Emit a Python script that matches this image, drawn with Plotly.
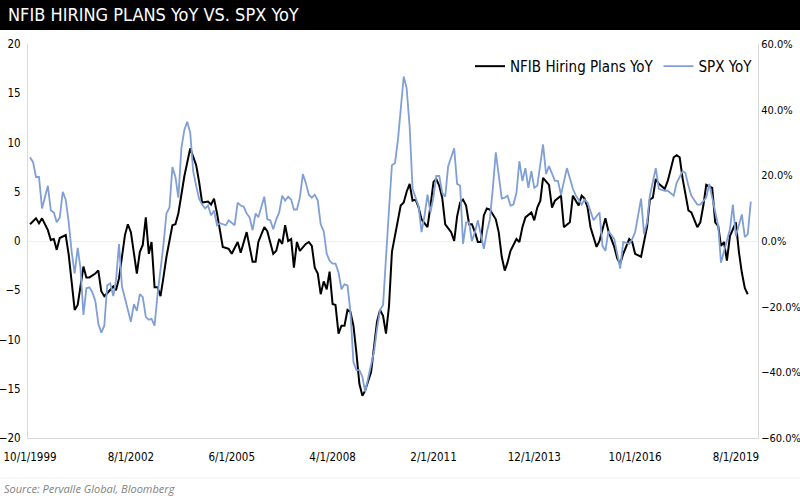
import pandas as pd
import plotly.graph_objects as go

start = pd.Timestamp("1999-10-01")

# NFIB hiring plans YoY: month offset from 10/1999, value
nfib_m = [0, 2, 3, 4, 6, 7, 8, 9, 10, 12, 13, 14, 15, 16, 17, 18, 19, 20, 22, 23, 24, 25, 26, 28, 29, 30,
          32, 33, 34, 36, 37, 38, 39, 40, 41, 42, 43, 44, 45, 46, 48, 49, 50, 52, 54, 56, 57, 58, 60, 61,
          62, 63, 65, 67, 68, 70, 71, 73, 75, 76, 77, 79, 80, 82, 83, 84, 85, 86, 87, 88, 89, 90, 91, 93,
          94, 95, 96, 97, 98, 99, 100, 101, 102, 103, 104, 105, 106, 107, 108, 109, 110, 111, 112, 113,
          115, 116, 117, 118, 119, 120, 121, 122, 124, 125, 126, 127, 128, 129, 130, 131, 132, 134, 135,
          136, 137, 138, 139, 140, 142, 143, 144, 145, 146, 147, 148, 149, 150, 151, 152, 153, 154, 155,
          157, 158, 159, 160, 161, 162, 164, 165, 166, 167, 169, 170, 171, 172, 173, 175, 176, 177, 179,
          180, 182, 183, 185, 186, 187, 188, 189, 191, 192, 194, 195, 197, 198, 199, 200, 202, 203, 204,
          206, 207, 208, 209, 210, 211, 212, 214, 215, 217, 218, 219, 220, 222, 223, 225, 226, 227, 228,
          230, 231, 232, 233, 234, 235, 236, 238, 239, 240, 241, 242]
nfib_v = [1.7, 2.3, 1.8, 2.3, 1.1, 0.1, 0.2, -0.9, 0.3, 0.6, -1.4, -4.5, -7.0, -6.5, -4.8, -2.6, -3.7, -3.7,
          -3.3, -3.0, -5.1, -5.6, -5.3, -4.6, -5.0, -3.8, 0.6, 1.7, 0.9, -3.3, -1.1, -0.4, 2.4, -1.3, -0.1,
          -4.7, -4.7, -5.6, -3.7, -1.6, 1.6, 1.7, 2.8, 6.6, 9.4, 7.7, 6.0, 3.9, 4.0, 3.7, 4.3, 2.8, -0.6,
          -0.8, -1.3, -0.1, -1.2, 0.9, -2.1, -2.1, -0.1, 1.4, 1.0, -1.3, -1.0, 0.2, -0.3, 1.6, 0.0, 0.2,
          -2.7, -0.1, -1.0, -0.3, -0.1, -0.5, -2.7, -3.3, -5.4, -4.1, -4.9, -3.1, -6.4, -6.5, -9.4, -8.6,
          -8.6, -7.0, -7.2, -8.6, -11.3, -14.5, -15.7, -15.2, -13.3, -10.9, -8.2, -7.0, -7.6, -9.4, -6.6,
          -1.1, 1.9, 3.6, 3.9, 5.0, 5.8, 4.1, 4.2, 3.4, 2.2, 1.4, 3.6, 6.0, 6.3, 5.6, 4.4, 1.7, 0.9, 0.0,
          2.5, 3.9, 4.2, 3.6, 1.7, 1.7, 0.9, -0.1, -0.1, 2.6, 3.3, 3.2, 2.2, 0.9, -1.6, -3.0, -2.2, -1.0,
          0.2, -0.1, 1.4, 2.4, 2.9, 2.1, 3.4, 4.1, 6.4, 5.7, 3.4, 4.1, 4.6, 1.4, 1.9, 4.6, 3.6, 4.6, 4.3,
          3.4, 1.4, -0.6, 0.0, 2.3, 1.0, -0.6, -1.8, -2.3, -1.3, 0.2, -0.1, -1.3, -1.6, 0.0, 1.5, 4.2, 4.4,
          6.3, 5.8, 5.3, 6.1, 8.5, 8.7, 8.5, 6.3, 3.1, 2.9, 1.4, 1.9, 3.6, 5.7, 5.4, 1.9, 1.5, -0.5, -0.1,
          -2.0, 0.5, 1.9, -1.1, -3.2, -4.8, -5.4]

# SPX YoY (%)
spx_m = [0, 1, 2, 3, 4, 5, 6, 7, 8, 9, 10, 11, 12, 13, 14, 15, 16, 17, 18, 19, 20, 21, 22, 23, 24, 25, 26,
         27, 28, 29, 30, 31, 32, 33, 34, 35, 36, 37, 38, 39, 40, 41, 42, 43, 44, 45, 46, 47, 48, 49, 50,
         51, 52, 53, 54, 55, 56, 57, 58, 59, 60, 61, 62, 63, 64, 65, 66, 67, 69, 70, 71, 72, 73, 74, 75,
         76, 77, 79, 80, 81, 82, 83, 84, 85, 86, 87, 88, 89, 90, 91, 92, 93, 94, 95, 96, 97, 98, 99, 100,
         101, 102, 103, 104, 105, 106, 107, 108, 109, 110, 111, 112, 113, 114, 115, 116, 117, 118, 119,
         120, 121, 122, 123, 124, 125, 126, 127, 128, 129, 130, 131, 132, 133, 134, 135, 136, 137, 138,
         139, 140, 141, 143, 144, 145, 146, 147, 148, 149, 150, 151, 152, 153, 154, 155, 156, 157, 159,
         160, 161, 162, 163, 164, 165, 166, 167, 168, 169, 170, 171, 172, 173, 174, 175, 177, 178, 179,
         181, 183, 184, 186, 187, 188, 189, 190, 192, 193, 194, 195, 197, 198, 199, 200, 202, 203, 204,
         206, 207, 208, 209, 211, 212, 214, 215, 217, 218, 220, 221, 222, 223, 225, 226, 228, 229, 230,
         232, 233, 234, 236, 237, 238, 240, 241, 242, 243]
spx_v = [25.5, 24.0, 19.5, 19.5, 9.9, 12.9, 16.8, 9.3, 8.7, 5.7, 7.2, 15.0, 12.6, 5.7, -3.3, -9.9, -2.1,
         -8.1, -22.5, -14.4, -14.1, -15.6, -18.3, -25.2, -27.9, -25.8, -13.5, -12.9, -16.8, -12.0, -0.9,
         -13.8, -17.4, -21.0, -24.6, -19.2, -21.3, -16.2, -17.1, -23.1, -24.0, -23.7, -25.8, -16.5, -9.3,
         -1.2, 8.4, 10.2, 22.5, 19.5, 13.2, 28.2, 33.9, 36.3, 33.0, 21.3, 16.8, 12.9, 11.1, 9.9, 10.8, 7.8,
         9.3, 4.8, 5.4, 5.1, 4.8, 6.3, 4.8, 11.7, 10.8, 10.5, 8.4, 7.2, 3.3, 8.4, 7.2, 13.5, 6.6, 6.3, 3.6,
         6.6, 8.7, 13.8, 12.3, 13.5, 12.6, 9.6, 9.6, 13.2, 20.4, 17.7, 14.1, 13.2, 14.1, 12.3, 5.1, 3.0,
         -3.9, -6.0, -6.9, -6.9, -9.6, -14.7, -13.2, -13.5, -21.6, -36.9, -39.3, -39.3, -41.4, -45.9,
         -41.7, -37.8, -33.6, -26.7, -21.0, -19.5, -6.6, 9.6, 23.1, 23.7, 30.9, 39.0, 50.1, 46.5, 34.8,
         15.9, 12.9, 10.5, 2.7, 7.8, 14.1, 8.7, 13.5, 19.8, 19.8, 14.7, 13.5, 22.8, 28.2, 17.4, 16.8,
         -0.9, 5.7, 5.7, 0.0, 2.7, 6.3, 1.5, -2.4, 2.7, 6.6, 15.9, 27.0, 12.9, 13.2, 13.8, 10.8, 11.1,
         14.7, 24.3, 18.3, 22.2, 16.2, 21.3, 16.2, 16.8, 24.3, 29.4, 20.4, 22.8, 18.3, 18.3, 14.1, 22.2,
         15.9, 13.8, 11.1, 12.6, 11.7, 9.3, 6.3, 8.7, -1.5, -3.0, 3.0, 0.6, -3.9, -8.4, -0.3, -0.9, 0.6,
         2.7, 12.9, 2.1, 5.7, 13.8, 22.2, 15.9, 15.3, 15.3, 13.8, 17.7, 21.3, 20.7, 16.8, 13.8, 11.1,
         11.1, 13.2, 17.4, 13.2, 4.5, -6.6, -3.0, 3.6, 11.1, 1.5, 8.1, 1.2, 2.1, 12.0, 10.2]

tick_dates = ["1999-10-01", "2002-08-01", "2005-06-01", "2008-04-01", "2011-02-01",
              "2013-12-01", "2016-10-01", "2019-08-01"]
tick_text = ["10/1/1999", "8/1/2002", "6/1/2005", "4/1/2008", "2/1/2011",
             "12/1/2013", "10/1/2016", "8/1/2019"]

nfib_x = [start + pd.DateOffset(months=m) for m in nfib_m]
spx_x = [start + pd.DateOffset(months=m) for m in spx_m]

font = "Liberation Sans Narrow, DejaVu Sans Condensed, sans-serif"

fig = go.Figure()
fig.add_trace(go.Scatter(x=nfib_x, y=nfib_v, mode="lines", name="NFIB Hiring Plans YoY",
                         line=dict(color="#000000", width=2)))
fig.add_trace(go.Scatter(x=spx_x, y=spx_v, mode="lines", name="SPX YoY", yaxis="y2",
                         line=dict(color="#7f9fd6", width=1.8)))

fig.update_layout(
    width=800, height=496,
    paper_bgcolor="white", plot_bgcolor="white",
    margin=dict(l=28, r=42, t=44, b=58),
    font=dict(family=font, size=12, color="#000"),
    showlegend=True,
    legend=dict(orientation="h", x=1.0, y=0.985, xanchor="right", yanchor="top",
                font=dict(size=15), bgcolor="rgba(0,0,0,0)", itemwidth=30, tracegroupgap=0),
    xaxis=dict(type="date", range=["1999-09-10", "2020-03-15"], tickvals=tick_dates,
               ticktext=tick_text, showgrid=False, showline=True, linecolor="#d9d9d9",
               ticks="", tickfont=dict(size=11.5), zeroline=False, ticklabelstandoff=8,
               automargin=False),
    yaxis=dict(range=[-20, 20], dtick=5, showgrid=False, showline=True, linecolor="#d9d9d9",
               zeroline=True, zerolinecolor="#eeeeee", zerolinewidth=1, ticks="",
               tickfont=dict(size=11.5), ticklabelstandoff=4, automargin=False),
    yaxis2=dict(range=[-60, 60], dtick=20, overlaying="y", side="right", showgrid=False,
                showline=True, linecolor="#d9d9d9", zeroline=False, ticksuffix="%",
                tickformat=".1f", tickfont=dict(size=11), automargin=False),
)

# black title bar
fig.add_shape(type="rect", xref="paper", yref="paper", x0=-0.04, x1=1.06, y0=1.0355, y1=1.12,
              fillcolor="black", line=dict(width=0), layer="below")
fig.add_annotation(xref="paper", yref="paper", x=-0.03, y=1.074, xanchor="left", yanchor="middle",
                   text="NFIB HIRING PLANS YoY VS. SPX YoY", showarrow=False,
                   font=dict(family=font, size=18, color="white"))
fig.add_shape(type="line", xref="paper", yref="paper", x0=-0.04, x1=1.06, y0=-0.1015, y1=-0.1015,
              line=dict(color="#eeeeee", width=1))
fig.add_annotation(xref="paper", yref="paper", x=-0.035, y=-0.127, xanchor="left", yanchor="middle",
                   text="<i>Source: Pervalle Global, Bloomberg</i>", showarrow=False,
                   font=dict(family="Open Sans, sans-serif", size=11, color="#7f7f7f"))

fig.write_html("out.html", config={"displayModeBar": False},
               post_script="document.body.style.margin='0';")
